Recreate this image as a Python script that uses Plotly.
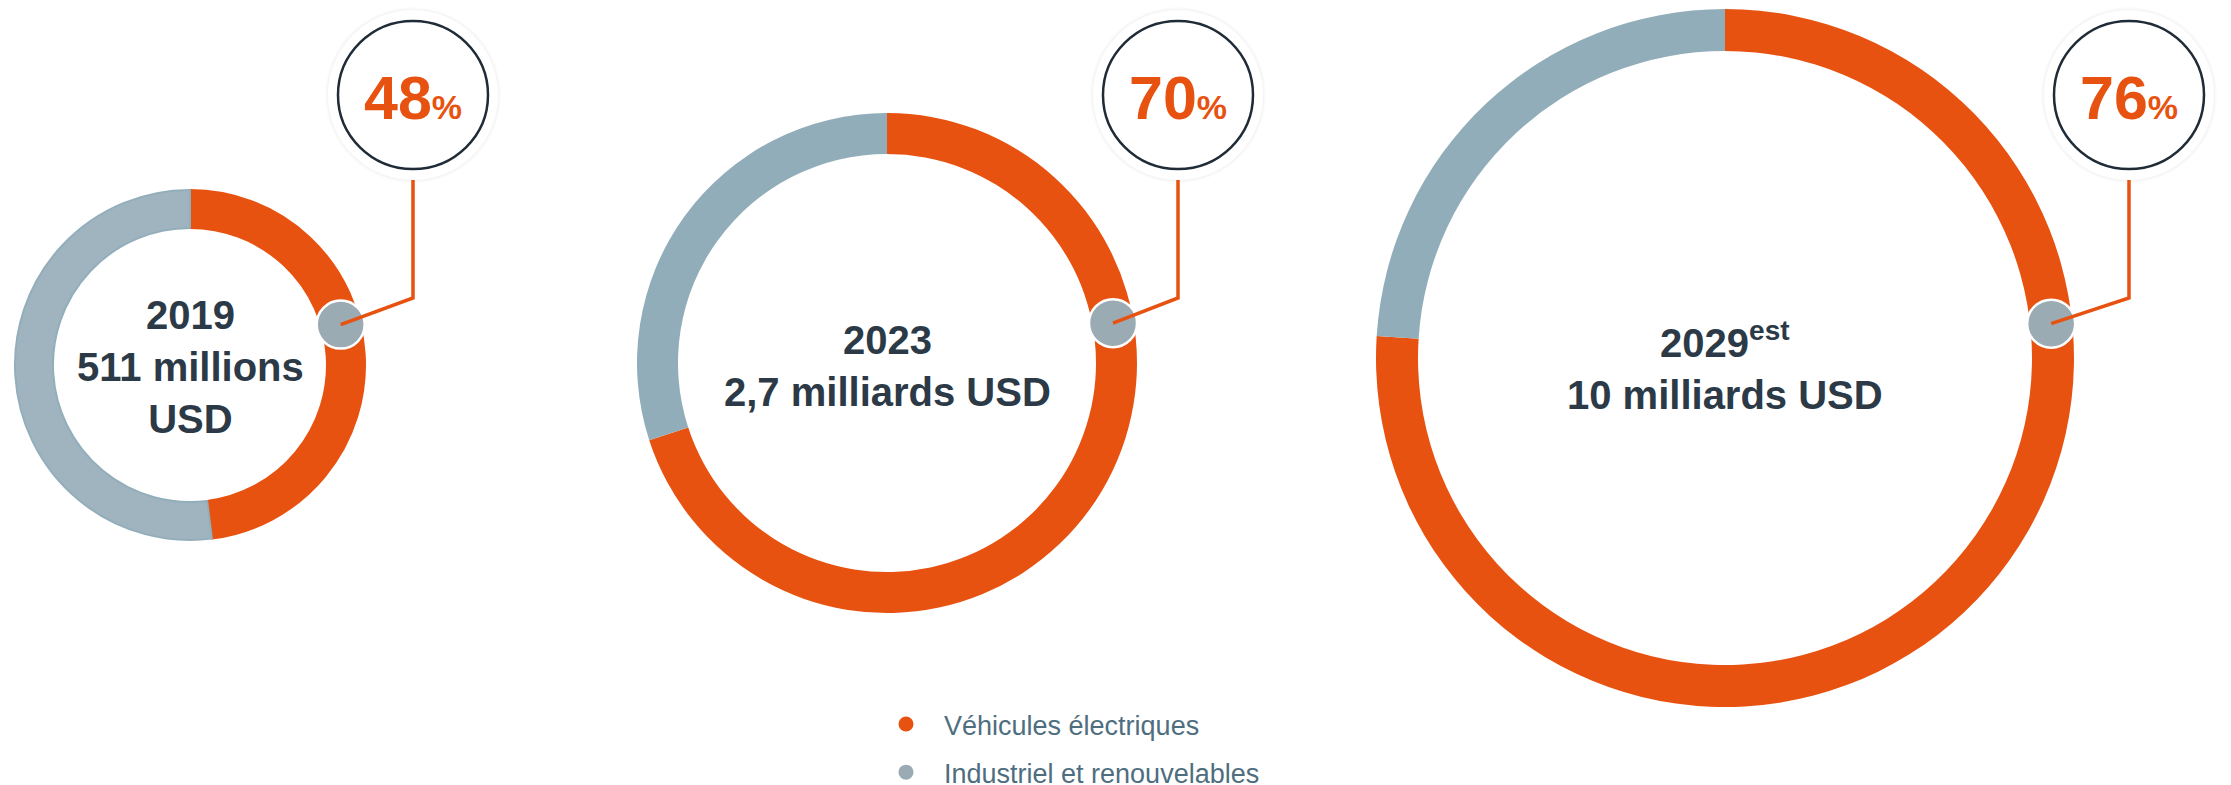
import math
import plotly.graph_objects as go

# data
years = ["2019", "2023", "2029"]
year_suffix = ["", "", "est"]
market_text = ["511 millions<br>USD", "2,7 milliards USD", "10 milliards USD"]
ev_share = [48, 70, 76]
other_share = [52, 30, 24]
segments = ["Véhicules électriques", "Industriel et renouvelables"]

ORANGE = "#E85211"
GREY = "#92ADBA"
DARK = "#2B3A46"
W, H = 2231, 785

# layout positions (pixels)
centers = [(190, 365), (887, 363), (1725, 358)]
radii = [175, 250, 349]
rings = [38, 41, 42]
text_y = [367, 366, 366]
marker_angle = [75, 80, 84]
callout_x = [413, 1178, 2129]
callout_y = 95
elbow_y = 298

fig = go.Figure()

for i in range(len(years)):
    cx, cy = centers[i]
    r = radii[i]
    first = i == 0
    fig.add_trace(go.Pie(
        labels=segments,
        values=[ev_share[i], other_share[i]],
        hole=1 - rings[i] / r,
        sort=False,
        direction="clockwise",
        rotation=0,
        marker=dict(colors=[ORANGE, "#A0B4C0" if first else GREY],
                    line=dict(width=2 if first else 0,
                              color=[ORANGE, "#93AEBB"])),
        textinfo="none",
        hoverinfo="label+percent",
        showlegend=False,
        domain=dict(x=[(cx - r) / W, (cx + r) / W],
                    y=[1 - (cy + r) / H, 1 - (cy - r) / H]),
    ))

# legend entries
for name, col in zip(segments, [ORANGE, "#9AABB3"]):
    fig.add_trace(go.Scatter(
        x=[None], y=[None], mode="markers", name=name, legendgroup=name,
        marker=dict(size=15, color=col), xaxis="x", yaxis="y",
    ))

shapes = []
annotations = []
for i in range(len(years)):
    cx, cy = centers[i]
    rm = radii[i] - rings[i] / 2
    a = math.radians(marker_angle[i])
    mx, my = cx + rm * math.sin(a), cy - rm * math.cos(a)
    ox = callout_x[i]
    # callout halo + ring
    for rr, col in [(88, "rgba(0,0,0,0.015)"), (86.5, "rgba(0,0,0,0.025)"), (85, "white")]:
        shapes.append(dict(type="circle", xref="x", yref="y", layer="above",
                           x0=ox - rr, x1=ox + rr, y0=callout_y - rr, y1=callout_y + rr,
                           fillcolor=col, line=dict(width=0)))
    shapes.append(dict(type="circle", xref="x", yref="y", layer="above",
                       x0=ox - 75, x1=ox + 75, y0=callout_y - 74, y1=callout_y + 74,
                       fillcolor="white", line=dict(color="#1F2B36", width=2.5)))
    # marker on ring
    shapes.append(dict(type="circle", xref="x", yref="y", layer="above",
                       x0=mx - 24, x1=mx + 24, y0=my - 24, y1=my + 24,
                       fillcolor="#9AABB3", line=dict(color="white", width=2.5)))
    # leader line
    shapes.append(dict(type="path", xref="x", yref="y", layer="above",
                       path=f"M {mx:.1f},{my:.1f} L {ox},{elbow_y} L {ox},{callout_y + 85}",
                       line=dict(color=ORANGE, width=3.5)))
    annotations.append(dict(
        x=ox, y=callout_y + 3, xref="x", yref="y", showarrow=False,
        text=f"<b>{ev_share[i]}<span style='font-size:34px'>%</span></b>",
        font=dict(family="Liberation Sans, Arial", size=61, color=ORANGE),
    ))
    year = years[i] + (f"<sup>{year_suffix[i]}</sup>" if year_suffix[i] else "")
    annotations.append(dict(
        x=cx, y=text_y[i], xref="x", yref="y", showarrow=False,
        text=f"<b>{year}<br>{market_text[i]}</b>",
        font=dict(family="Liberation Sans, Arial", size=40, color=DARK),
    ))

fig.update_layout(
    width=W, height=H,
    margin=dict(l=0, r=0, t=0, b=0, autoexpand=False),
    paper_bgcolor="white", plot_bgcolor="rgba(0,0,0,0)",
    xaxis=dict(range=[0, W], visible=False, fixedrange=True),
    yaxis=dict(range=[H, 0], visible=False, fixedrange=True),
    shapes=shapes,
    annotations=annotations,
    showlegend=True,
    legend=dict(x=868 / W, y=1 - 700 / H, xanchor="left", yanchor="top",
                bgcolor="rgba(0,0,0,0)", itemwidth=66, tracegroupgap=10,
                font=dict(family="Liberation Sans, Arial", size=27, color="#4E6E80")),
)

fig.write_html("out.html", config={"displayModeBar": False},
               post_script="document.body.style.margin = '0';")
